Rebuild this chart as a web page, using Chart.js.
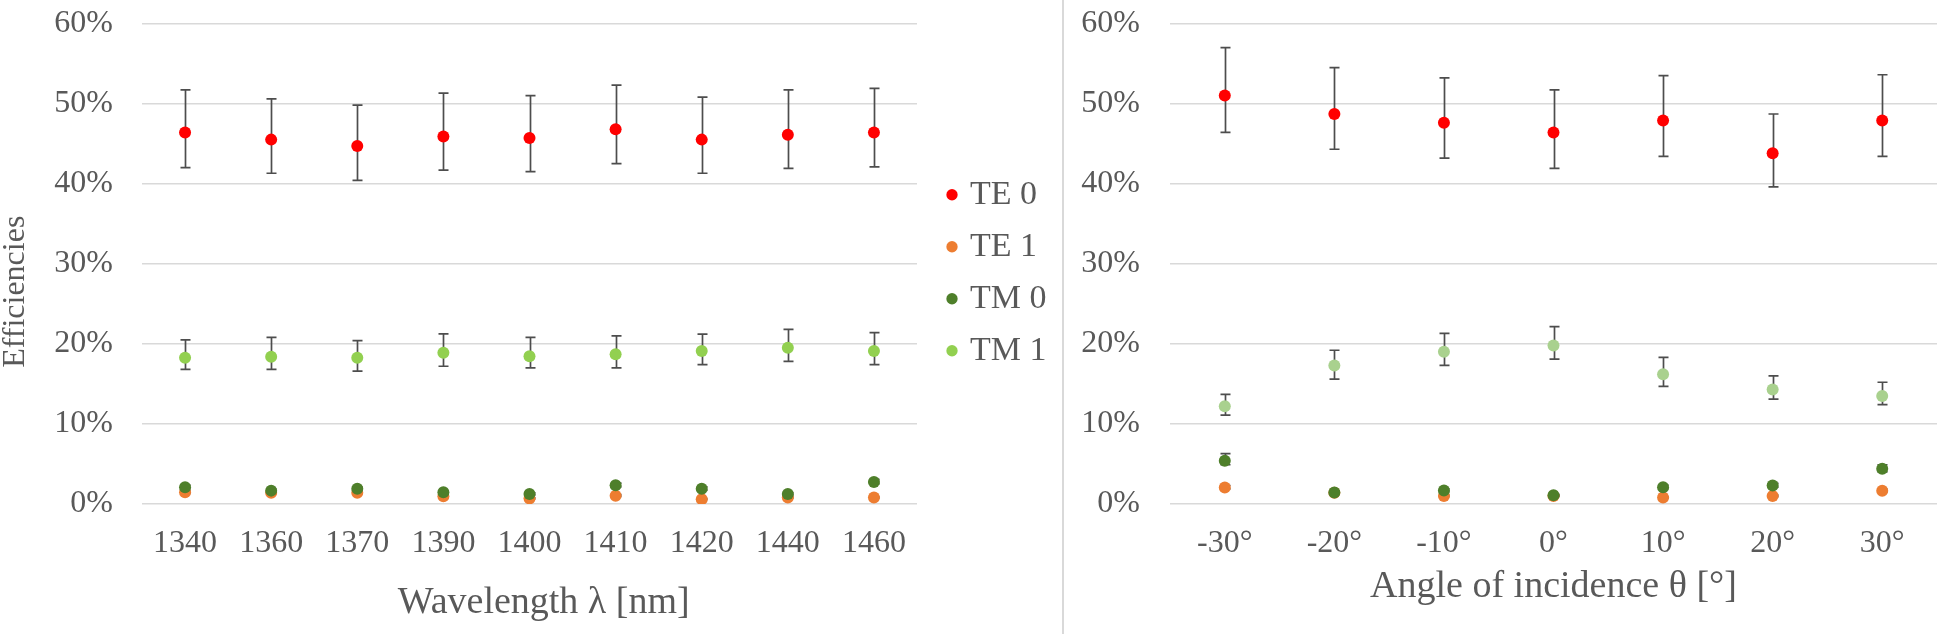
<!DOCTYPE html>
<html>
<head>
<meta charset="utf-8">
<script src="https://cdn.jsdelivr.net/npm/chart.js@4.4.1/dist/chart.umd.min.js"></script>
<style>
  html, body { margin: 0; padding: 0; background: #fff; }
  #wrap { position: relative; width: 1943px; height: 634px; overflow: hidden; }
  #left { position: absolute; left: 0; top: 0; }
  #right { position: absolute; left: 1063px; top: 0; }
  #sep { position: absolute; left: 1062px; top: 0; width: 2px; height: 634px; background: #d9d9d9; }
</style>
</head>
<body>
<div id="wrap">
  <canvas id="left" width="1063" height="634"></canvas>
  <div id="sep"></div>
  <canvas id="right" width="880" height="634"></canvas>
</div>
<script>
// --- data (efficiency in %), error bars given as plus / minus ---
const wavelengths = ['1340', '1360', '1370', '1390', '1400', '1410', '1420', '1440', '1460'];
const wlTE0      = [46.4, 45.5, 44.7, 45.9, 45.7, 46.8, 45.5, 46.1, 46.4];
const wlTE0Plus  = [5.3, 5.1, 5.1, 5.4, 5.3, 5.5, 5.3, 5.6, 5.5];
const wlTE0Minus = [4.4, 4.2, 4.3, 4.2, 4.2, 4.3, 4.2, 4.2, 4.3];
const wlTE1      = [1.46, 1.4, 1.4, 0.96, 0.7, 1.04, 0.6, 0.8, 0.8];
const wlTE1Plus  = [0.17, 0.16, 0.16, 0.11, 0.08, 0.12, 0.07, 0.09, 0.09];
const wlTE1Minus = [0.13, 0.12, 0.12, 0.09, 0.06, 0.09, 0.05, 0.07, 0.07];
const wlTM0      = [2.1, 1.67, 1.9, 1.46, 1.25, 2.33, 1.9, 1.25, 2.75];
const wlTM0Plus  = [0.25, 0.2, 0.23, 0.17, 0.15, 0.28, 0.23, 0.15, 0.32];
const wlTM0Minus = [0.18, 0.15, 0.17, 0.13, 0.11, 0.2, 0.17, 0.11, 0.24];
const wlTM1      = [18.25, 18.4, 18.25, 18.9, 18.45, 18.7, 19.1, 19.5, 19.1];
const wlTM1Plus  = [2.25, 2.4, 2.15, 2.35, 2.35, 2.3, 2.1, 2.3, 2.3];
const wlTM1Minus = [1.45, 1.6, 1.65, 1.7, 1.45, 1.7, 1.7, 1.7, 1.7];

const angles      = ['-30°', '-20°', '-10°', '0°', '10°', '20°', '30°'];
const angTE0      = [51.0, 48.7, 47.6, 46.4, 47.9, 43.8, 47.9];
const angTE0Plus  = [6.0, 5.8, 5.6, 5.3, 5.6, 4.9, 5.7];
const angTE0Minus = [4.6, 4.4, 4.4, 4.5, 4.5, 4.2, 4.5];
const angTE1      = [2.07, 1.4, 1.0, 1.0, 0.8, 1.0, 1.65];
const angTE1Plus  = [0.24, 0.16, 0.12, 0.12, 0.09, 0.12, 0.2];
const angTE1Minus = [0.19, 0.13, 0.09, 0.09, 0.07, 0.09, 0.15];
const angTM0      = [5.4, 1.45, 1.7, 1.08, 2.1, 2.3, 4.4];
const angTM0Plus  = [0.9, 0.17, 0.2, 0.12, 0.25, 0.28, 0.5];
const angTM0Minus = [0.5, 0.13, 0.15, 0.1, 0.19, 0.2, 0.4];
const angTM1      = [12.2, 17.3, 19.0, 19.8, 16.2, 14.3, 13.5];
const angTM1Plus  = [1.5, 1.9, 2.3, 2.35, 2.1, 1.7, 1.7];
const angTM1Minus = [1.1, 1.7, 1.7, 1.7, 1.5, 1.2, 1.1];

const yTicks = [0, 10, 20, 30, 40, 50, 60];

Chart.defaults.font.family = "'Liberation Serif', 'Times New Roman', serif";
Chart.defaults.font.size = 32;
Chart.defaults.color = '#595959';

const NB = '\u00a0';

// draws vertical error bars behind the points, using the chart's own y scale
const errorBars = {
  id: 'errorBars',
  beforeDatasetsDraw(chart) {
    const { ctx } = chart;
    const y = chart.scales.y;
    ctx.save();
    ctx.strokeStyle = '#4d4d4d';
    ctx.lineWidth = 1.7;
    chart.data.datasets.forEach((ds, i) => {
      if (!ds.errPlus) return;
      const meta = chart.getDatasetMeta(i);
      meta.data.forEach((pt, j) => {
        const v = ds.data[j];
        const top = y.getPixelForValue(v + ds.errPlus[j]);
        const bot = y.getPixelForValue(v - ds.errMinus[j]);
        const px = Math.round(pt.x) + 0.5;
        const cap = 5;
        ctx.beginPath();
        ctx.moveTo(px, top); ctx.lineTo(px, bot);
        ctx.moveTo(px - cap, top); ctx.lineTo(px + cap, top);
        ctx.moveTo(px - cap, bot); ctx.lineTo(px + cap, bot);
        ctx.stroke();
      });
    });
    ctx.restore();
  }
};

// shifts the legend block a bit to the right of the plot area
const legendNudge = {
  id: 'legendNudge',
  afterLayout(chart) {
    if (!chart.legend) return;
    chart.legend.left += 16;
    chart.legend.right += 16;
  }
};

function series(label, data, plus, minus, color, order) {
  return {
    label: label,
    data: data,
    errPlus: plus,
    errMinus: minus,
    order: order,
    showLine: false,
    backgroundColor: color,
    borderColor: color,
    borderWidth: 0,
    pointBorderWidth: 0,
    pointRadius: 6,
    pointHoverRadius: 6,
    pointStyle: 'circle'
  };
}

function yScale(width, pad) {
  return {
    min: 0,
    max: 60,
    afterBuildTicks(scale) { scale.ticks = yTicks.map(v => ({ value: v })); },
    afterFit(scale) {
      scale.width = width;
      scale.paddingTop = 0;
      scale.paddingBottom = 0;
    },
    grid: { color: '#d9d9d9', lineWidth: 1.5, drawTicks: false },
    border: { display: false },
    ticks: { padding: pad, callback: v => v + '%' }
  };
}

function xScale(title, padBottom) {
  return {
    offset: true,
    afterFit(scale) { scale.height = 130; },
    grid: { display: false, drawTicks: false },
    border: { display: false },
    ticks: { padding: 20, maxRotation: 0, autoSkip: false },
    title: { display: true, text: title, font: { size: 38 }, padding: { top: 0, bottom: padBottom } }
  };
}

new Chart(document.getElementById('left'), {
  type: 'line',
  data: {
    labels: wavelengths,
    datasets: [
      series('TE 0', wlTE0, wlTE0Plus, wlTE0Minus, '#ff0000', 3),
      series('TE 1', wlTE1, wlTE1Plus, wlTE1Minus, '#ed7d31', 2),
      series('TM 0', wlTM0, wlTM0Plus, wlTM0Minus, '#4e7f2a', 1),
      series('TM 1', wlTM1, wlTM1Plus, wlTM1Minus, '#92d050', 0)
    ]
  },
  options: {
    responsive: false,
    animation: false,
    layout: { padding: { top: 23.5, right: 22.5, bottom: 0, left: 0 } },
    scales: {
      x: xScale(NB + NB + NB + 'Wavelength λ [nm]', 8),
      y: Object.assign(yScale(142, 29), {
        title: {
          display: true,
          text: 'Efficiencies' + NB.repeat(7),
          padding: 0,
          font: { lineHeight: 1 }
        }
      })
    },
    plugins: {
      legend: {
        position: 'right',
        fullSize: false,
        reverse: true,
        title: { display: true, text: NB, font: { size: 10 }, padding: 3 },
        labels: {
          usePointStyle: true,
          boxWidth: 2,
          boxHeight: 8,
          padding: 18,
          color: '#595959',
          font: { size: 34 }
        }
      },
      tooltip: { enabled: false }
    }
  },
  plugins: [errorBars, legendNudge]
});

new Chart(document.getElementById('right'), {
  type: 'line',
  data: {
    labels: angles,
    datasets: [
      series('TE 0', angTE0, angTE0Plus, angTE0Minus, '#ff0000', 3),
      series('TE 1', angTE1, angTE1Plus, angTE1Minus, '#ed7d31', 2),
      series('TM 0', angTM0, angTM0Plus, angTM0Minus, '#4e7f2a', 1),
      series('TM 1', angTM1, angTM1Plus, angTM1Minus, '#a9d18e', 0)
    ]
  },
  options: {
    responsive: false,
    animation: false,
    layout: { padding: { top: 23.5, right: 0, bottom: 0, left: 0 } },
    scales: {
      x: xScale('Angle of incidence θ [°]', 24),
      y: yScale(107, 30)
    },
    plugins: {
      legend: { display: false },
      tooltip: { enabled: false }
    }
  },
  plugins: [errorBars]
});
</script>
</body>
</html>
